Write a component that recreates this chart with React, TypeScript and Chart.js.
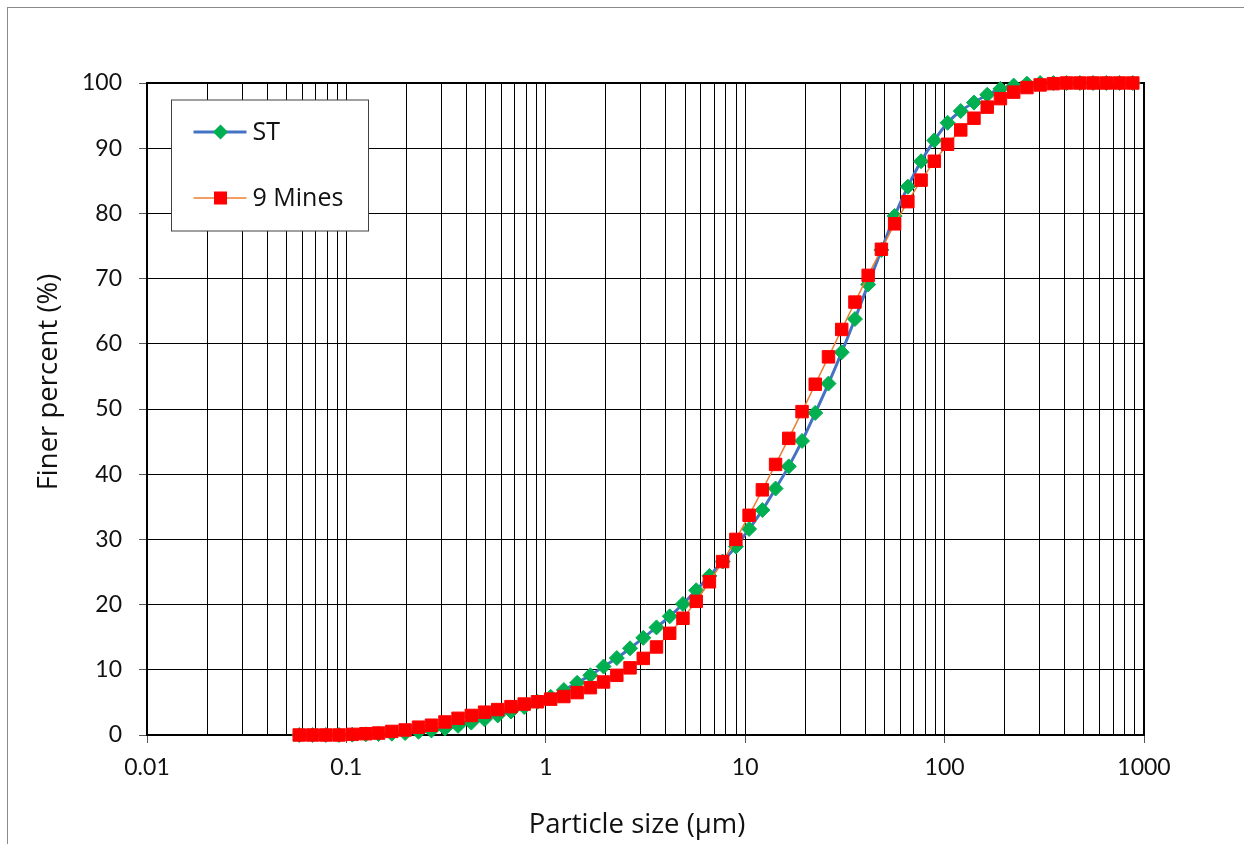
import React, { useEffect, useRef } from "react";
import { Chart, registerables } from "chart.js";

Chart.register(...registerables);

// ---- data ----
const particleSizes = [
  0.058, 0.0676, 0.0788, 0.0918, 0.107, 0.125, 0.145, 0.169, 0.197, 0.23,
  0.267, 0.312, 0.363, 0.423, 0.493, 0.574, 0.669, 0.779, 0.908, 1.058,
  1.232, 1.436, 1.673, 1.949, 2.271, 2.645, 3.082, 3.591, 4.183, 4.874,
  5.679, 6.615, 7.708, 8.979, 10.46, 12.19, 14.2, 16.54, 19.28, 22.45,
  26.16, 30.48, 35.51, 41.37, 48.2, 56.15, 65.43, 76.22, 88.81, 103.5,
  120.5, 140.4, 163.6, 190.6, 222.1, 258.8, 301.5, 351.2, 409.3, 476.8,
  555.5, 647.1, 754.1, 878.5,
];

const stFiner = [
  0, 0, 0, 0, 0.05, 0.1, 0.15, 0.2, 0.3, 0.5,
  0.7, 1.0, 1.4, 1.9, 2.4, 3.0, 3.6, 4.3, 5.1, 5.85,
  6.9, 8.0, 9.15, 10.5, 11.8, 13.3, 14.9, 16.5, 18.2, 20.1,
  22.2, 24.4, 26.6, 28.9, 31.6, 34.5, 37.8, 41.2, 45.1, 49.4,
  53.9, 58.7, 63.8, 69.1, 74.4, 79.6, 84.1, 88.0, 91.2, 93.9,
  95.7, 97.0, 98.2, 99.1, 99.6, 99.9, 100, 100, 100, 100,
  100, 100, 100, 100,
];

const mines9Finer = [
  0, 0, 0, 0, 0.1, 0.2, 0.3, 0.55, 0.77, 1.2,
  1.5, 2.0, 2.56, 3.0, 3.5, 3.9, 4.35, 4.75, 5.1, 5.5,
  5.9, 6.5, 7.26, 8.13, 9.15, 10.3, 11.75, 13.5, 15.6, 17.9,
  20.5, 23.5, 26.6, 30.0, 33.7, 37.6, 41.5, 45.5, 49.6, 53.8,
  58.0, 62.2, 66.4, 70.5, 74.5, 78.4, 81.8, 85.1, 88.0, 90.6,
  92.8, 94.6, 96.3, 97.6, 98.6, 99.3, 99.7, 99.9, 100, 100,
  100, 100, 100, 100,
];

const seriesLabels = ["ST", "9 Mines"];

const xMajorTicks = [0.01, 0.1, 1, 10, 100, 1000];
const xTickLabels = ["0.01", "0.1", "1", "10", "100", "1000"];
const xMinorMultipliers = [2, 3, 4, 5, 6, 7, 8, 9];
const yTicks = [0, 10, 20, 30, 40, 50, 60, 70, 80, 90, 100];

const xTitle = "Particle size (\u00b5m)";
const yTitle = "Finer percent (%)";

const FONT = "Lato, 'Open Sans', sans-serif";
const TITLE_FONT = "'Open Sans', Lato, sans-serif";

function buildXGrid() {
  const vals: { value: number; major: boolean }[] = [];
  xMajorTicks.forEach((d, i) => {
    vals.push({ value: d, major: true });
    if (i < xMajorTicks.length - 1) {
      xMinorMultipliers.forEach((m) => {
        vals.push({ value: parseFloat((d * m).toPrecision(6)), major: false });
      });
    }
  });
  return vals;
}

const decorPlugin = {
  id: "decor",
  beforeDatasetsDraw(chart: any) {
    const { ctx, chartArea: a } = chart;
    ctx.save();
    ctx.strokeStyle = "#000";
    ctx.lineWidth = 2;
    ctx.strokeRect(a.left, a.top, a.right - a.left, a.bottom - a.top);
    ctx.restore();
  },
  afterDatasetsDraw(chart: any) {
    const { ctx, chartArea: a } = chart;
    const bx = a.left + 24.5;
    const by = a.top + 17;
    const bw = 197;
    const bh = 131;
    ctx.save();
    ctx.fillStyle = "#fff";
    ctx.fillRect(bx, by, bw, bh);
    ctx.strokeStyle = "#404040";
    ctx.lineWidth = 1;
    ctx.strokeRect(bx, by, bw, bh);

    const rows = [
      { label: seriesLabels[0], line: "#4472C4", lw: 3, fill: "#00B050", shape: "diamond", y: by + 32 },
      { label: seriesLabels[1], line: "#ED7D31", lw: 1.5, fill: "#FF0000", shape: "square", y: by + 98 },
    ];
    rows.forEach((r) => {
      ctx.strokeStyle = r.line;
      ctx.lineWidth = r.lw;
      ctx.beginPath();
      ctx.moveTo(bx + 22, r.y);
      ctx.lineTo(bx + 75, r.y);
      ctx.stroke();
      const cx = bx + 49;
      ctx.fillStyle = r.fill;
      ctx.beginPath();
      if (r.shape === "diamond") {
        ctx.moveTo(cx - 7.5, r.y);
        ctx.lineTo(cx, r.y - 7.5);
        ctx.lineTo(cx + 7.5, r.y);
        ctx.lineTo(cx, r.y + 7.5);
        ctx.closePath();
      } else {
        ctx.rect(cx - 6.5, r.y - 6.5, 13, 13);
      }
      ctx.fill();
      ctx.fillStyle = "#111";
      ctx.font = `25px ${TITLE_FONT}`;
      ctx.textAlign = "left";
      ctx.textBaseline = "middle";
      ctx.fillText(r.label, bx + 81, r.y + 1);
    });
    ctx.restore();
  },
  afterDraw(chart: any) {
    const { ctx } = chart;
    ctx.save();
    ctx.fillStyle = "#111";
    ctx.font = `27.5px ${TITLE_FONT}`;
    ctx.textAlign = "center";
    ctx.textBaseline = "alphabetic";
    ctx.fillText(xTitle, 637, 833);
    ctx.translate(57, 382);
    ctx.rotate(-Math.PI / 2);
    ctx.fillText(yTitle, 0, 0);
    ctx.restore();
  },
};

export default function App() {
  const ref = useRef<HTMLCanvasElement | null>(null);

  useEffect(() => {
    if (!ref.current) return;
    const xGrid = buildXGrid();
    const chart = new Chart(ref.current, {
      type: "scatter",
      data: {
        datasets: [
          {
            label: seriesLabels[0],
            data: particleSizes.map((x, i) => ({ x, y: stFiner[i] })),
            showLine: true,
            borderColor: "#4472C4",
            borderWidth: 3,
            cubicInterpolationMode: "monotone",
            pointStyle: "rectRot",
            pointRadius: 7.5,
            pointBorderWidth: 1,
            pointBackgroundColor: "#00B050",
            pointBorderColor: "#00B050",
            clip: false,
            order: 2,
          },
          {
            label: seriesLabels[1],
            data: particleSizes.map((x, i) => ({ x, y: mines9Finer[i] })),
            showLine: true,
            borderColor: "#ED7D31",
            borderWidth: 1.5,
            pointStyle: "rect",
            pointRadius: 8.8,
            pointBorderWidth: 1,
            pointBackgroundColor: "#FF0000",
            pointBorderColor: "#FF0000",
            clip: false,
            order: 1,
          },
        ] as any,
      },
      options: {
        responsive: false,
        animation: false,
        events: [],
        layout: { padding: { left: 0, top: 83, right: 100, bottom: 0 } },
        plugins: {
          legend: { display: false },
          tooltip: { enabled: false },
          title: { display: false },
        },
        scales: {
          x: {
            type: "logarithmic",
            min: 0.01,
            max: 1000,
            afterBuildTicks: (scale: any) => {
              scale.ticks = xGrid.map((t) => ({ ...t }));
            },
            afterFit: (scale: any) => {
              scale.height = 109;
            },
            ticks: {
              autoSkip: false,
              maxRotation: 0,
              minRotation: 0,
              padding: 11,
              color: "#111",
              font: { family: FONT, size: 23 },
              callback: (value: any) => {
                const idx = xMajorTicks.findIndex((m) => Math.abs(m - value) / m < 1e-6);
                return idx >= 0 ? xTickLabels[idx] : "";
              },
            },
            grid: {
              color: "#000",
              lineWidth: 1,
              tickLength: 8,
              tickColor: (ctx: any) => (ctx.tick && ctx.tick.major ? "#555" : "rgba(0,0,0,0)"),
            },
            border: { display: false },
          },
          y: {
            type: "linear",
            min: 0,
            max: 100,
            afterBuildTicks: (scale: any) => {
              scale.ticks = yTicks.map((v) => ({ value: v }));
            },
            afterFit: (scale: any) => {
              scale.width = 147;
            },
            ticks: {
              autoSkip: false,
              padding: 17,
              color: "#111",
              font: { family: FONT, size: 23 },
              callback: (value: any) => String(value),
            },
            grid: {
              color: "#000",
              lineWidth: 1,
              tickLength: 8,
              tickColor: "#555",
            },
            border: { display: false },
          },
        },
      } as any,
      plugins: [decorPlugin],
    });
    return () => chart.destroy();
  }, []);

  return (
    <>
      <div
        style={{
          position: "fixed",
          left: 7,
          top: 7,
          width: 1237,
          height: 837,
          borderLeft: "1px solid #8a8a8a",
          borderTop: "1px solid #8a8a8a",
          boxSizing: "border-box",
          background: "#fff",
        }}
      />
      <canvas
        ref={ref}
        width={1244}
        height={844}
        style={{ position: "fixed", left: 0, top: 0, width: 1244, height: 844 }}
      />
    </>
  );
}
